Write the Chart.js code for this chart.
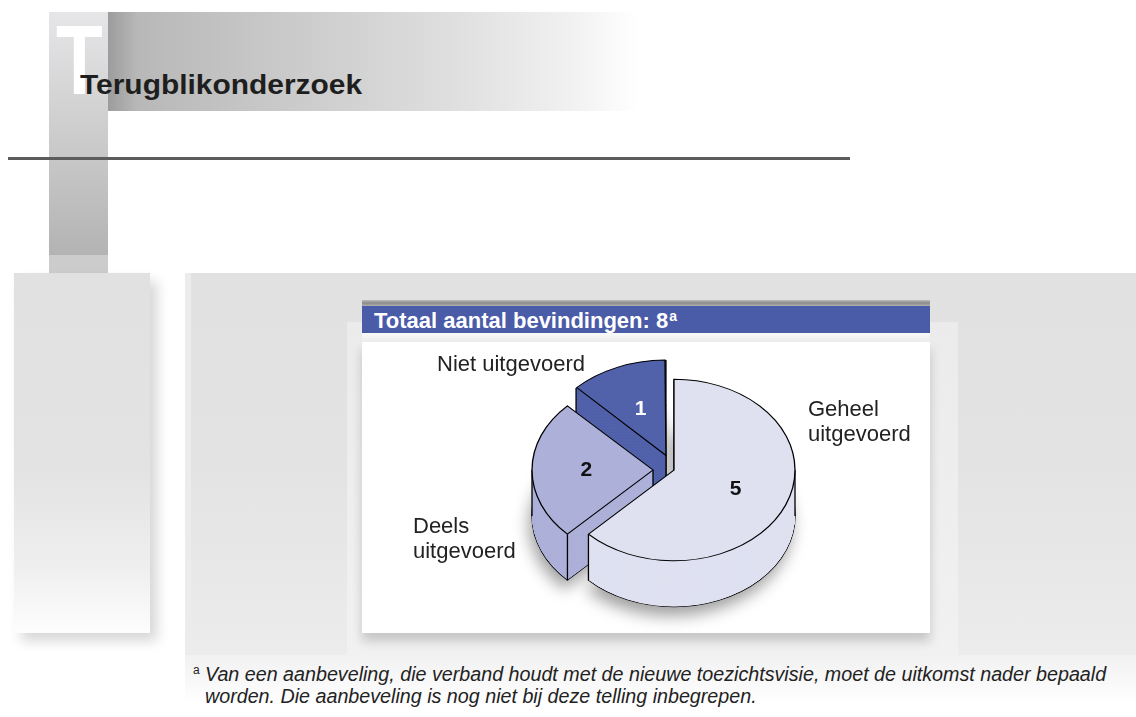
<!DOCTYPE html>
<html>
<head>
<meta charset="utf-8">
<script src="https://cdn.jsdelivr.net/npm/chart.js@4.4.0/dist/chart.umd.min.js"></script>
<style>
    body { margin: 0; width: 1136px; height: 717px; background: #fff; position: relative; overflow: hidden;
           font-family: 'Liberation Sans', Arial, sans-serif; }
    div { position: absolute; }
    #band { left: 108px; top: 12px; width: 530px; height: 99px;
            background: linear-gradient(90deg, #9c9c9c 0, #b8b8b8 30px, #cacaca 180px, #dedede 340px, #f2f2f2 470px, #fff 530px); }
    #vbar { left: 49px; top: 12px; width: 59px; height: 243px; background: linear-gradient(180deg, #e6e6e8, #b3b3b3); }
    #vbar2 { left: 49px; top: 255px; width: 59px; height: 18px; background: #cccccc; }
    #bigT { left: 56px; top: 11px; font-size: 98px; line-height: 98px; font-weight: bold; color: #fff;
            transform: scaleX(0.78); transform-origin: left top; }
    #title { left: 80px; top: 70px; font-size: 28.5px; line-height: 28px; font-weight: bold; color: #1e1e1e;
             transform: scaleX(1.05); transform-origin: left top; }
    #rule { left: 8px; top: 157px; width: 842px; height: 3px; background: #5c5c5c; }
    #leftPanel { left: 14px; top: 273px; width: 136px; height: 360px;
                 background: linear-gradient(180deg, #e1e1e2 0, #e3e3e3 55%, #efefef 82%, #fdfdfd 100%);
                 box-shadow: 7px 8px 12px rgba(0,0,0,0.16); }
    #mainPanel { left: 185px; top: 273px; width: 951px; height: 382px;
                 background: linear-gradient(180deg, #e1e1e2 0, #e3e3e3 50%, #ececec 100%);
                 border-left: 6px solid #ececec; box-sizing: border-box; }
    #footShade { left: 185px; top: 655px; width: 951px; height: 50px;
                 background: linear-gradient(180deg, #f1f1f1, #fff); }
    #innerPanel { left: 347px; top: 322px; width: 611px; height: 333px;
                  background: linear-gradient(180deg, #ebebeb, #f1f1f1); }
    #barLine { left: 362px; top: 300px; width: 568px; height: 6px;
               background: linear-gradient(180deg, #bdbdbd, #8a8a8a 50%, #b0b0b0); }
    #bar { left: 362px; top: 306px; width: 568px; height: 27px; background: #4a5ba7; color: #fff;
           font-weight: bold; font-size: 22px; line-height: 27px; white-space: nowrap; }
    #bar span.t { position: absolute; left: 12px; top: 1px; }
    #bar sup { font-size: 14px; vertical-align: 0; position: relative; top: -7px; margin-left: 1px; }
    #boxTop { left: 362px; top: 333px; width: 568px; height: 9px; background: linear-gradient(180deg, #fafafa, #ececec); }
    #box { left: 362px; top: 342px; width: 568px; height: 291px; background: #fff;
           box-shadow: 0 8px 10px rgba(0,0,0,0.18); }
    #note { left: 193px; top: 663px; width: 940px; font-style: italic; font-size: 19.7px; line-height: 22px; color: #222; }
    #note .m { position: absolute; left: 0; top: 1px; font-size: 12px; line-height: 12px; font-style: normal; }
    #note .l { position: absolute; left: 12px; white-space: nowrap; }
</style>
</head>
<body>
<div id="band"></div>
<div id="vbar"></div>
<div id="vbar2"></div>
<div id="bigT">T</div>
<div id="title">Terugblikonderzoek</div>
<div id="rule"></div>
<div id="leftPanel"></div>
<div id="mainPanel"></div>
<div id="footShade"></div>
<div id="innerPanel"></div>
<div id="barLine"></div>
<div id="bar"><span class="t">Totaal aantal bevindingen: 8<sup>a</sup></span></div>
<div id="boxTop"></div>
<div id="box"><canvas id="pie" width="568" height="291" style="display:block"></canvas></div>
<div id="note">
    <span class="m">a</span>
    <span class="l" style="top:0">Van een aanbeveling, die verband houdt met de nieuwe toezichtsvisie, moet de uitkomst nader bepaald</span>
    <span class="l" style="top:22px">worden. Die aanbeveling is nog niet bij deze telling inbegrepen.</span>
</div>
<script>
const categories = ['Geheel uitgevoerd', 'Deels uitgevoerd', 'Niet uitgevoerd'];
const counts = [5, 2, 1];
const sliceColors = ['#dfe1f1', '#adb0d8', '#5161aa'];
const valueColors = ['#111111', '#111111', '#ffffff'];
const labelLines = [['Geheel', 'uitgevoerd'], ['Deels', 'uitgevoerd'], ['Niet uitgevoerd']];

// where the category texts sit, relative to the pie centre (px)
const labelSpots = [[134, -60], [-261, 57], [-237, -105]];

const TILT = 0.75;   // vertical squash of the pie
const DEPTH = 46;    // thickness of the pie on screen

function sliceShift(el) {
    // same shift as Chart.js applies for "offset"
    const o = (el.options.offset || 0) / 4;
    const mid = (el.startAngle + el.endAngle) / 2;
    const fix = 1 - Math.sin(Math.min(Math.PI, el.circumference || 0));
    return { dx: Math.cos(mid) * o, dy: Math.sin(mid) * o, dr: o * fix };
}

function sectorPath(ctx, x, y, r, a0, a1) {
    ctx.beginPath();
    ctx.moveTo(x, y);
    ctx.arc(x, y, r, a0, a1);
    ctx.closePath();
}

const pie3d = {
    id: 'pie3d',
    beforeDatasetsDraw(chart) {
        const ctx = chart.ctx;
        const arcs = chart.getDatasetMeta(0).data;
        const cx = arcs[0].x, cy = arcs[0].y;
        const depth = DEPTH / TILT;
        ctx.save();
        ctx.translate(cx, cy);
        ctx.scale(1, TILT);
        ctx.translate(-cx, -cy);

        const mid = el => (el.startAngle + el.endAngle) / 2;
        const order = arcs.slice().sort((a, b) => Math.sin(mid(a)) - Math.sin(mid(b)));

        // soft shadow under the pie
        order.forEach(el => {
            const s = sliceShift(el);
            ctx.save();
            ctx.shadowColor = 'rgba(0,0,0,0.38)';
            ctx.shadowBlur = 16;
            ctx.shadowOffsetX = -3;
            ctx.shadowOffsetY = 9;
            ctx.fillStyle = el.options.backgroundColor;
            sectorPath(ctx, el.x + s.dx, el.y + s.dy + depth, el.outerRadius + s.dr, el.startAngle, el.endAngle);
            ctx.fill();
            ctx.restore();
        });

        // sides, back to front
        order.forEach(el => {
            const s = sliceShift(el);
            const x = el.x + s.dx, y = el.y + s.dy, r = el.outerRadius + s.dr;
            const a0 = el.startAngle, a1 = el.endAngle;
            ctx.fillStyle = el.options.backgroundColor;
            ctx.strokeStyle = '#000';
            ctx.lineWidth = 1.3;
            ctx.lineJoin = 'miter';
            sectorPath(ctx, x, y + depth, r, a0, a1);
            ctx.fill();
            ctx.stroke();
            for (let d = depth - 0.5; d > 0; d -= 0.5) {
                sectorPath(ctx, x, y + d, r, a0, a1);
                ctx.fill();
            }
            const pts = [[x, y], [x + r * Math.cos(a0), y + r * Math.sin(a0)], [x + r * Math.cos(a1), y + r * Math.sin(a1)]];
            [0, Math.PI, 2 * Math.PI].forEach(a => {
                if (a > a0 && a < a1) pts.push([x + r * Math.cos(a), y + r * Math.sin(a)]);
            });
            ctx.beginPath();
            pts.forEach(p => { ctx.moveTo(p[0], p[1]); ctx.lineTo(p[0], p[1] + depth); });
            ctx.stroke();
        });
    },
    afterDatasetsDraw(chart) {
        const ctx = chart.ctx;
        ctx.restore();
        const arcs = chart.getDatasetMeta(0).data;
        const cx = arcs[0].x, cy = arcs[0].y;

        // values on the slices
        ctx.font = 'bold 21px "Liberation Sans", Arial, sans-serif';
        ctx.textAlign = 'center';
        ctx.textBaseline = 'middle';
        arcs.forEach((el, i) => {
            const s = sliceShift(el);
            const m = (el.startAngle + el.endAngle) / 2;
            const px = el.x + s.dx + Math.cos(m) * el.outerRadius * 0.55;
            const py = el.y + s.dy + Math.sin(m) * el.outerRadius * 0.55;
            ctx.fillStyle = valueColors[i];
            ctx.fillText(String(counts[i]), px, cy + (py - cy) * TILT);
        });

        // category names
        ctx.font = '22px "Liberation Sans", Arial, sans-serif';
        ctx.textAlign = 'left';
        ctx.fillStyle = '#222';
        labelLines.forEach((lines, i) => {
            lines.forEach((t, k) => {
                ctx.fillText(t, cx + labelSpots[i][0], cy + labelSpots[i][1] + k * 25);
            });
        });
    }
};

new Chart(document.getElementById('pie'), {
    type: 'pie',
    data: {
        labels: categories,
        datasets: [{
            data: counts,
            backgroundColor: sliceColors,
            borderColor: '#000',
            borderWidth: 1.3,
            borderJoinStyle: 'miter',
            offset: [0, 84, 84],
            clip: false
        }]
    },
    options: {
        responsive: false,
        animation: false,
        radius: 121,
        events: [],
        layout: { padding: { left: 56, right: 0, top: 0, bottom: 35 } },
        plugins: { legend: { display: false }, tooltip: { enabled: false } }
    },
    plugins: [pie3d]
});
</script>
</body>
</html>
